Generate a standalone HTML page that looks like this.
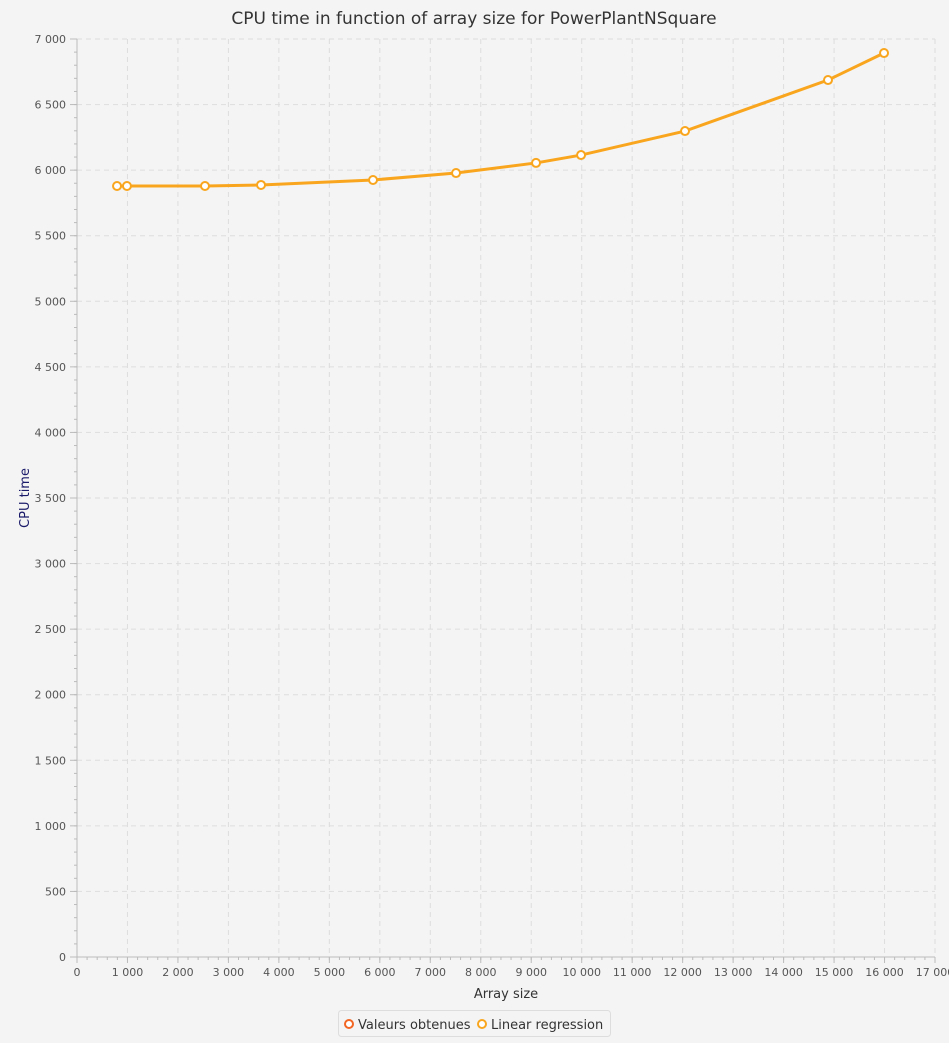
<!DOCTYPE html>
<html><head><meta charset="utf-8"><style>
body{margin:0;background:#f4f4f4;font-family:"DejaVu Sans","Liberation Sans",sans-serif}
svg{display:block}
</style></head><body>
<svg id="c" width="949" height="1043" xmlns="http://www.w3.org/2000/svg">
<rect width="949" height="1043" fill="#f4f4f4"/>
<text x="474" y="24" text-anchor="middle" font-size="17" fill="#333">CPU time in function of array size for PowerPlantNSquare</text>
<g id="grid"></g>
<g id="axes"></g>
<g id="series"></g>
<text x="506" y="998" text-anchor="middle" font-size="13" fill="#333">Array size</text>
<text transform="translate(29,498) rotate(-90)" text-anchor="middle" font-size="13" fill="#1a1a6a">CPU time</text>
<g>
<rect x="338.5" y="1010.5" width="272" height="26" rx="3" fill="#f4f4f4" stroke="#ddd"/>
<g><circle cx="349" cy="1024" r="4" fill="#fff" stroke="#f26522" stroke-width="2"/><text x="358" y="1029" font-size="13" fill="#333">Valeurs obtenues</text></g>
<g><circle cx="482" cy="1024" r="4" fill="#fff" stroke="#f9a61e" stroke-width="2"/><text x="491" y="1029" font-size="13" fill="#333">Linear regression</text></g>
</g>
</svg>
<script>
const xs=[793,990,2536,3646,5865,7510,9095,9987,12047,14880,15990];
const ys=[5879,5879,5879,5887,5925,5978,6055,6115,6298,6687,6893];
const xTicks=[0,1000,2000,3000,4000,5000,6000,7000,8000,9000,10000,11000,12000,13000,14000,15000,16000,17000];
const yTicks=[0,500,1000,1500,2000,2500,3000,3500,4000,4500,5000,5500,6000,6500,7000];
const L=77,R=935,T=39,B=957;
const X=v=>L+(R-L)*v/17000, Y=v=>B-(B-T)*v/7000;
const NS='http://www.w3.org/2000/svg';
function mk(t,a,p){const e=document.createElementNS(NS,t);for(const k in a)e.setAttribute(k,a[k]);p.appendChild(e);return e;}
const fmt=v=>v>=1000?Math.floor(v/1000)+' '+String(v%1000).padStart(3,'0'):String(v);
const g=document.getElementById('grid'),ax=document.getElementById('axes'),s=document.getElementById('series');
xTicks.forEach(v=>{if(v>0){const l=mk('line',{x1:X(v),x2:X(v),y1:T,y2:B,stroke:'#ddd','stroke-dasharray':'5,4'},g);}
 mk('line',{x1:X(v),x2:X(v),y1:B,y2:B+6,stroke:'#bbb'},ax);
 const t=mk('text',{x:X(v),y:B+19,'text-anchor':'middle','font-size':'11',fill:'#555'},ax);t.textContent=fmt(v);
 });
for(let v=0;v<17000;v+=200){mk('line',{x1:X(v),x2:X(v),y1:B,y2:B+3,stroke:'#bbb'},ax);}
yTicks.forEach(v=>{if(v>0){const l=mk('line',{x1:L,x2:R,y1:Y(v),y2:Y(v),stroke:'#ddd','stroke-dasharray':'5,4'},g);}
 mk('line',{x1:L-7,x2:L,y1:Y(v),y2:Y(v),stroke:'#bbb'},ax);
 const t=mk('text',{x:L-11,y:Y(v)+4,'text-anchor':'end','font-size':'11',fill:'#555'},ax);t.textContent=fmt(v);
 });
for(let v=0;v<7000;v+=100){mk('line',{x1:L-3,x2:L,y1:Y(v),y2:Y(v),stroke:'#bbb'},ax);}
mk('line',{x1:L,x2:L,y1:T,y2:B,stroke:'#bbb'},ax);
mk('line',{x1:L,x2:R,y1:B,y2:B,stroke:'#bbb'},ax);
const p=mk('polyline',{points:xs.map((x,i)=>X(x)+','+Y(ys[i])).join(' '),fill:'none',stroke:'#f9a61e','stroke-width':3},s);

xs.forEach((x,i)=>{const c=mk('circle',{cx:X(x),cy:Y(ys[i]),r:4,fill:'#fff',stroke:'#f9a61e','stroke-width':2},s);
 });
</script>
</body></html>
